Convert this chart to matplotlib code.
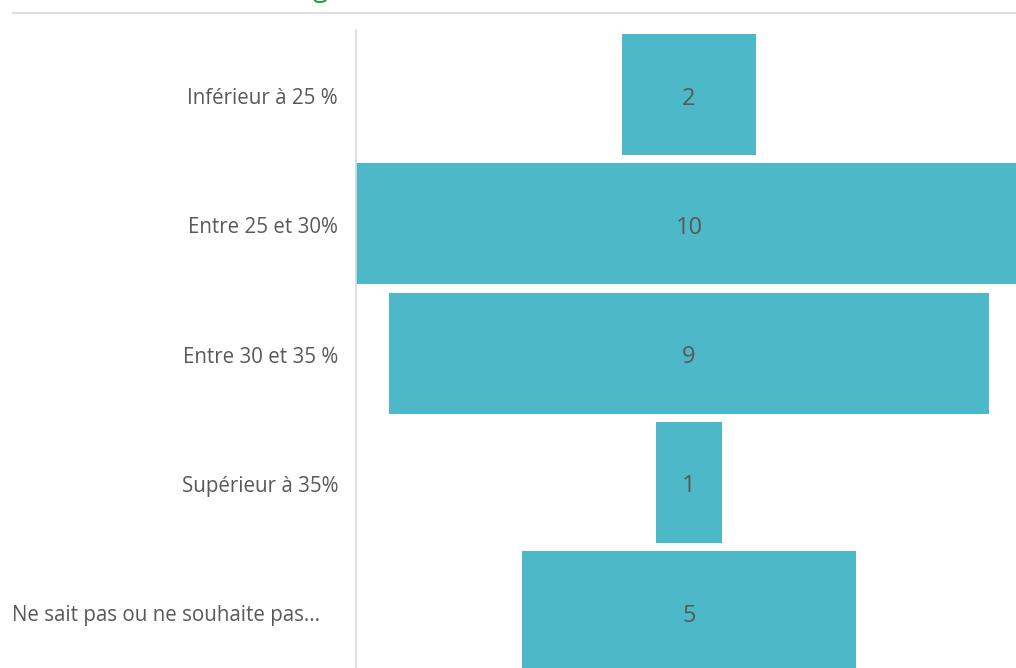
import matplotlib.pyplot as plt
from matplotlib.lines import Line2D
from matplotlib.transforms import blended_transform_factory

categories = ['Inférieur à 25 %', 'Entre 25 et 30%', 'Entre 30 et 35 %',
              'Supérieur à 35%', 'Ne sait pas ou ne souhaite pas...']
values = [2, 10, 9, 1, 5]

bar_color = '#4db8c8'
text_color = '#595959'
plt.rcParams['font.family'] = ['Open Sans', 'DejaVu Sans']

W, H = 1016, 668
fig = plt.figure(figsize=(W / 100, H / 100), dpi=100)

# axes: x=-5 at 355.5px, x=5 at 1022.5px ; top at 30px, 5 rows of 129.3px
left, right = 355.5 / W, 1022.5 / W
top = 1 - 30 / H
bottom = 1 - (30 + 5 * 129.3) / H
ax = fig.add_axes([left, bottom, right - left, top - bottom])

ypos = list(range(len(values)))
lefts = [-v / 2 for v in values]
ax.barh(ypos, values, left=lefts, height=0.936, color=bar_color)
for y, v in zip(ypos, values):
    ax.text(0, y + 0.03, str(v), ha='center', va='center', fontsize=17, color=text_color)

ax.set_xlim(-5, 5)
ax.set_ylim(len(values) - 0.5, -0.5)
ax.set_xticks([])
ax.set_yticks([])
for s in ['top', 'right', 'bottom']:
    ax.spines[s].set_visible(False)
ax.spines['left'].set_color('#d9d9d9')
ax.spines['left'].set_linewidth(1.2)

trans = blended_transform_factory(fig.transFigure, ax.transData)
for i, label in enumerate(categories):
    if i == len(categories) - 1:
        ax.text(12 / W, i + 0.03, label, transform=trans, ha='left', va='center',
                fontsize=14.8, color=text_color)
    else:
        ax.text(338 / W, i + 0.03, label, transform=trans, ha='right', va='center',
                fontsize=14.8, color=text_color)

# header rule and title (mostly above the visible area)
fig.add_artist(Line2D([13 / W, 1], [1 - 13 / H, 1 - 13 / H], color='#d9d9d9', lw=1.2))
fig.text(313 / W, 1 + 4 / H, 'g', color='#1a9a4a', fontsize=20, ha='left', va='baseline')

fig.savefig('out.png', dpi=100)
